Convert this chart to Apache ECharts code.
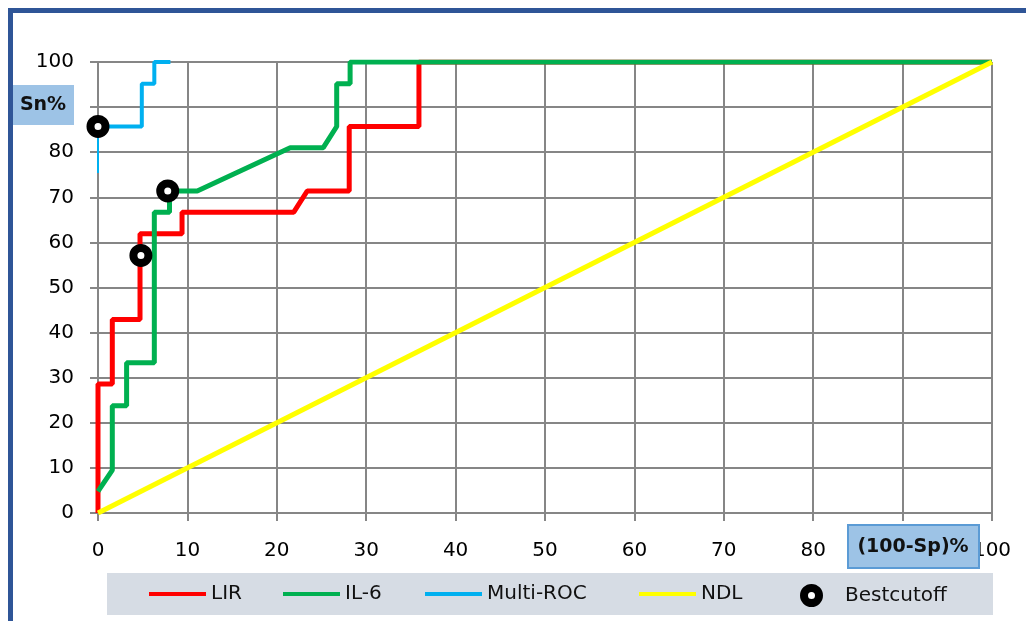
<!DOCTYPE html>
<html>
<head>
<meta charset="utf-8">
<script src="https://cdn.jsdelivr.net/npm/echarts@6/dist/echarts.min.js"></script>
<style>
  html, body { margin: 0; padding: 0; background: #fff; }
  #box { width: 1026px; height: 621px; }
</style>
</head>
<body>
<div id="box"></div>
<script>
// ROC curves, points as [100-Sp, Sn]
const lirPoints = [[0, 0], [0, 28.6], [1.6, 28.6], [1.6, 42.9], [4.7, 42.9], [4.7, 61.9], [9.4, 61.9], [9.4, 66.7],
  [21.9, 66.7], [23.4, 71.4], [28.1, 71.4], [28.1, 85.7], [35.9, 85.7], [35.9, 100], [100, 100]];
const il6Points = [[0, 4.8], [1.6, 9.5], [1.6, 23.8], [3.2, 23.8], [3.2, 33.3], [6.3, 33.3], [6.3, 66.7], [8.0, 66.7],
  [8.0, 71.4], [11.1, 71.4], [21.5, 81.0], [25.2, 81.0], [26.7, 85.7], [26.7, 95.2], [28.2, 95.2], [28.2, 100], [100, 100]];
const multiPoints = [[0, 85.7], [4.9, 85.7], [4.9, 95.2], [6.3, 95.2], [6.3, 100], [8.1, 100]];
const multiTail = [[0, 75.4], [0, 85.7]];
const ndlPoints = [[0, 0], [100, 100]];
const cutoffPoints = [[0, 85.7], [4.8, 57.1], [7.8, 71.4]];
const legendNames = ["LIR", "IL-6", "Multi-ROC", "NDL", "Bestcutoff"];
const legendLefts = [149, 283, 425, 639, 800];

let chart = echarts.init(document.getElementById("box"), null, { renderer: "canvas" });
const font = "DejaVu Sans";
const gridColor = "#868686";
const lineIcon = "path://M0,0 L57,0 L57,4 L0,4 Z";

function lineSeries(name, data, color, width) {
  return {
    type: "line", name: name, data: data, showSymbol: false, symbol: "none",
    lineStyle: { color: color, width: width }, itemStyle: { color: color },
    silent: true, animation: false
  };
}

// one legend per entry so each keeps its place in the grey band
let legends = legendNames.map((name, i) => {
  let item = { name: name, icon: lineIcon };
  if (name === "Bestcutoff") {
    item = { name: name, icon: "circle", itemStyle: { color: "#fff", borderColor: "#000", borderWidth: 8, opacity: 1 } };
  }
  return {
    left: legendLefts[i], top: 584, itemWidth: 57, itemHeight: 15, z: 10, padding: 0,
    selectedMode: false,
    textStyle: { color: "#111", fontFamily: font, fontSize: 20 },
    data: [item]
  };
});

let option = {
  animation: false,
  grid: { left: 98, right: 34, top: 62, bottom: 108 },
  xAxis: {
    type: "value", min: 0, max: 100, interval: 10,
    axisLine: { show: true, lineStyle: { color: gridColor, width: 2 } },
    axisTick: { show: true, length: 8, lineStyle: { color: gridColor, width: 2 } },
    splitLine: { show: true, lineStyle: { color: gridColor, width: 2 } },
    axisLabel: { color: "#000", fontFamily: font, fontSize: 20, margin: 28 }
  },
  yAxis: {
    type: "value", min: 0, max: 100, interval: 10,
    axisLine: { show: true, lineStyle: { color: gridColor, width: 2 } },
    axisTick: { show: true, length: 8, lineStyle: { color: gridColor, width: 2 } },
    splitLine: { show: true, lineStyle: { color: gridColor, width: 2 } },
    axisLabel: { color: "#000", fontFamily: font, fontSize: 20, margin: 24 }
  },
  legend: legends,
  series: [
    lineSeries("LIR", lirPoints, "#FF0000", 5),
    lineSeries("IL-6", il6Points, "#00B050", 5),
    lineSeries("Multi-ROC", multiPoints, "#00B0F0", 4),
    lineSeries("Multi-ROC start", multiTail, "#00B0F0", 2),
    lineSeries("NDL", ndlPoints, "#FFFF00", 5),
    {
      type: "scatter", name: "Bestcutoff", data: cutoffPoints, symbol: "circle", symbolSize: 15,
      itemStyle: { color: "#fff", borderColor: "#000", borderWidth: 8, opacity: 1 }, z: 5, silent: true
    }
  ],
  graphic: [
    { type: "rect", z: 0, shape: { x: 107, y: 573, width: 886, height: 42 }, style: { fill: "#D6DCE4" } },
    { type: "rect", z: 100, shape: { x: 12, y: 85, width: 62, height: 40 }, style: { fill: "#9DC3E6" } },
    { type: "text", z: 101, x: 43, y: 105,
      style: { text: "Sn%", fill: "#111", font: "bold 19px " + font, align: "center", verticalAlign: "middle" } },
    { type: "rect", z: 100, shape: { x: 848, y: 525, width: 131, height: 43 },
      style: { fill: "#9DC3E6", stroke: "#5B9BD5", lineWidth: 2 } },
    { type: "text", z: 101, x: 913, y: 547,
      style: { text: "(100-Sp)%", fill: "#111", font: "bold 19px " + font, align: "center", verticalAlign: "middle" } },
    { type: "rect", z: 100, shape: { x: 10.5, y: 10.5, width: 1200, height: 800 },
      style: { fill: "none", stroke: "#2F5597", lineWidth: 5 } }
  ]
};

chart.setOption(option);
</script>
</body>
</html>
